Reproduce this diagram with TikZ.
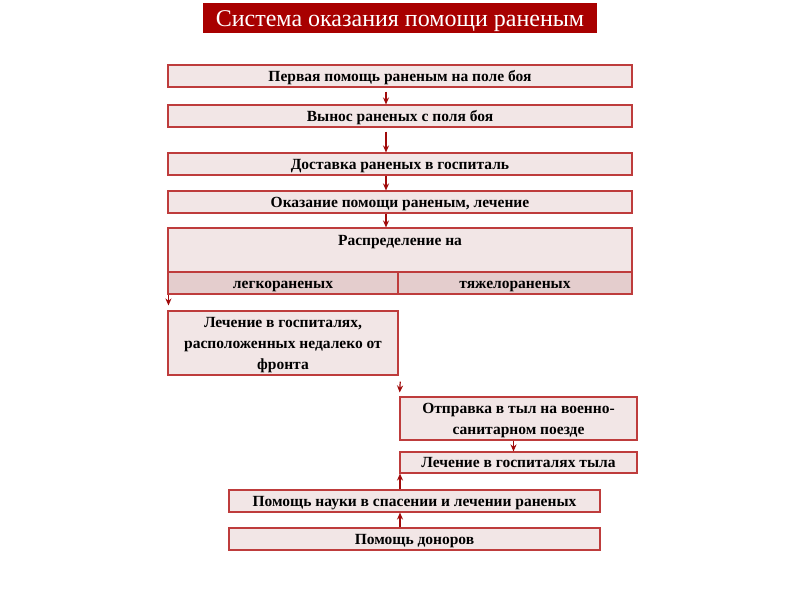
\documentclass[tikz,border=0pt]{standalone}
\usepackage{fontspec}
\setmainfont{Liberation Serif}
\usetikzlibrary{arrows.meta,positioning,calc}
\definecolor{wdTitle}{HTML}{A80000}
\definecolor{wdEdge}{HTML}{BE3C3C}
\definecolor{wdFill}{HTML}{F2E6E6}
\definecolor{wdCell}{HTML}{E4CDCD}
\definecolor{wdArrow}{HTML}{A00A0A}
\tikzset{
  stepnode/.style={
    draw=wdEdge, fill=wdFill, line width=1.1pt, inner sep=0pt,
    font=\fontsize{15.5}{21}\selectfont\bfseries, align=center,
    text height=10pt, text depth=0pt
  },
  widebox/.style={stepnode, minimum width=464pt, minimum height=22pt},
  cellbox/.style={stepnode, fill=wdCell, minimum height=22pt},
  titlebox/.style={
    fill=wdTitle, text=white, minimum width=394pt, minimum height=30pt,
    inner sep=0pt, font=\fontsize{24}{28}\selectfont,
    text height=17pt, text depth=0pt
  },
  flowarrow/.style={-{Stealth[length=7pt,width=6pt]}, line width=1.2pt, wdArrow}
}
\begin{document}
\begin{tikzpicture}[x=1pt, y=-1pt]
  \fill[white] (0,0) rectangle (800,600);
  % title
  \node[titlebox] (title) at (400,18) {Система оказания помощи раненым};
  % main chain
  \node[widebox] (first) at (400,76) {Первая помощь раненым на поле боя};
  \node[widebox] (carry) at (400,116) {Вынос раненых с поля боя};
  \node[widebox] (deliver) at (400,164) {Доставка раненых в госпиталь};
  \node[widebox] (treat) at (400,202) {Оказание помощи раненым, лечение};
  \node[stepnode, minimum width=464pt, minimum height=44pt] (distr) at (400,250) {};
  \node[anchor=north, font=\fontsize{15.5}{21}\selectfont\bfseries, inner sep=0pt,
    text height=10pt, text depth=0pt] (distrtext) at ([yshift=-8pt]distr.north) {Распределение на};
  \node[cellbox, minimum width=230pt] (light) at (283,283) {легкораненых};
  \node[cellbox, minimum width=234pt] (heavy) at (515,283) {тяжелораненых};
  % branches
  \node[stepnode, minimum width=230pt, minimum height=64pt, text height=52pt] (front) at (283,343)
    {Лечение в госпиталях,\\расположенных недалеко от\\фронта};
  \node[stepnode, minimum width=237pt, minimum height=43pt, text height=31pt] (train) at (518.5,418.5)
    {Отправка в тыл на военно-\\санитарном поезде};
  \node[stepnode, minimum width=237pt, minimum height=21pt] (rear) at (518.5,462.5) {Лечение в госпиталях тыла};
  \node[stepnode, minimum width=371pt, minimum height=22pt] (science) at (414.5,501) {Помощь науки в спасении и лечении раненых};
  \node[stepnode, minimum width=371pt, minimum height=22pt] (donor) at (414.5,539) {Помощь доноров};
  % connectors
  \draw[flowarrow, shorten <=4pt] ([xshift=-14pt]first.south) -- ([xshift=-14pt]carry.north);
  \draw[flowarrow, shorten <=4pt] ([xshift=-14pt]carry.south) -- ([xshift=-14pt]deliver.north);
  \draw[flowarrow] ([xshift=-14pt]deliver.south) -- ([xshift=-14pt]treat.north);
  \draw[flowarrow] ([xshift=-14pt]treat.south) -- ([xshift=-14pt]distr.north);
  \draw[flowarrow, shorten >=5pt] ([xshift=1pt]light.south west) -- ([xshift=1pt]front.north west);
  \draw[flowarrow, shorten <=6pt, shorten >=4pt] ([xshift=2pt]front.south east) -- (train.north west);
  \draw[flowarrow] ([xshift=-5pt]train.south) -- ([xshift=-5pt]rear.north);
  \draw[flowarrow] ([xshift=-14.5pt]science.north) -- ([xshift=-14.5pt]science.north |- rear.south);
  \draw[flowarrow] ([xshift=-14.5pt]donor.north) -- ([xshift=-14.5pt]science.south);
\end{tikzpicture}
\end{document}
